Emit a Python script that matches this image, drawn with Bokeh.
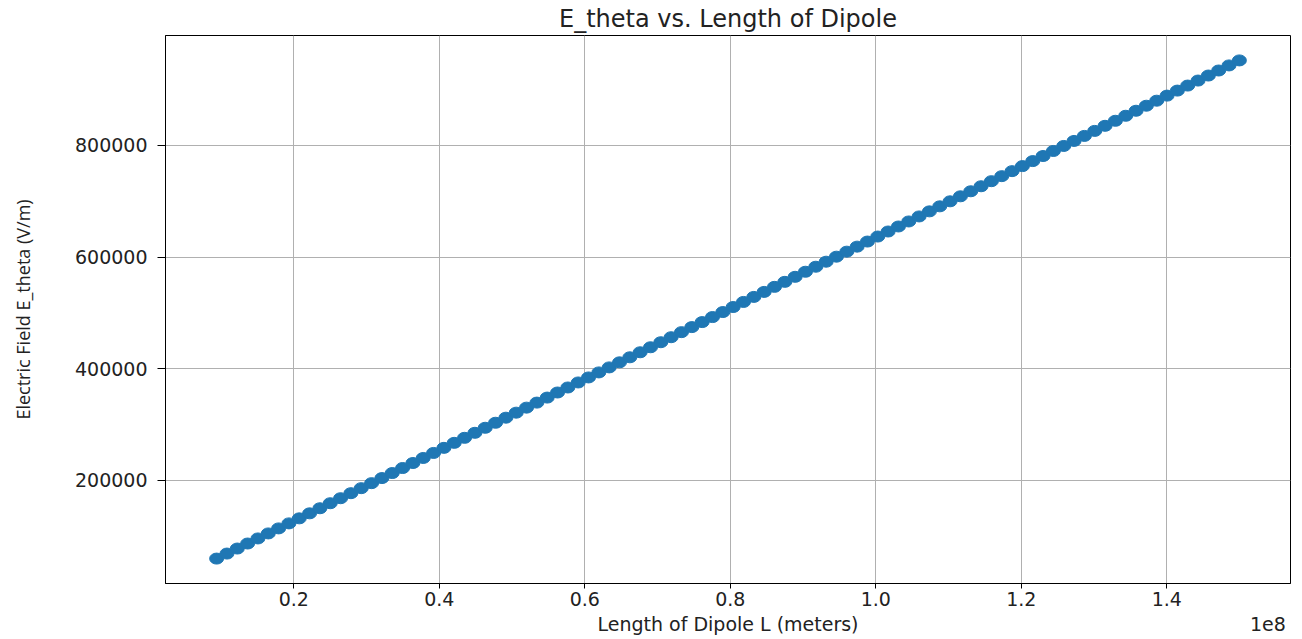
from bokeh.plotting import figure
from bokeh.models import (Range1d, FixedTicker, CustomJSTickFormatter, BasicTickFormatter,
                          LinearAxis, ColumnDataSource)
from bokeh.embed import file_html
from bokeh.resources import INLINE

# Dipole length L, in millions of metres
L_million_m = [9.40, 10.82, 12.24, 13.66, 15.08, 16.50, 17.92, 19.34, 20.76, 22.18,
               23.60, 25.02, 26.44, 27.86, 29.28, 30.70, 32.12, 33.54, 34.96, 36.38,
               37.80, 39.22, 40.64, 42.06, 43.48, 44.90, 46.32, 47.74, 49.16, 50.58,
               52.00, 53.42, 54.84, 56.26, 57.68, 59.10, 60.52, 61.94, 63.36, 64.78,
               66.20, 67.62, 69.04, 70.46, 71.88, 73.30, 74.72, 76.14, 77.56, 78.98,
               80.40, 81.82, 83.24, 84.66, 86.08, 87.50, 88.92, 90.34, 91.76, 93.18,
               94.60, 96.02, 97.44, 98.86, 100.28, 101.70, 103.12, 104.54, 105.96, 107.38,
               108.80, 110.22, 111.64, 113.06, 114.48, 115.90, 117.32, 118.74, 120.16, 121.58,
               123.00, 124.42, 125.84, 127.26, 128.68, 130.10, 131.52, 132.94, 134.36, 135.78,
               137.20, 138.62, 140.04, 141.46, 142.88, 144.30, 145.72, 147.14, 148.56, 149.98]

# Electric field E_theta, in thousands of V/m
E_theta_kVm = [59.7, 68.7, 77.7, 86.7, 95.8, 104.8, 113.8, 122.8, 131.8, 140.8,
               149.9, 158.9, 167.9, 176.9, 185.9, 194.9, 204.0, 213.0, 222.0, 231.0,
               240.0, 249.0, 258.1, 267.1, 276.1, 285.1, 294.1, 303.1, 312.2, 321.2,
               330.2, 339.2, 348.2, 357.3, 366.3, 375.3, 384.3, 393.3, 402.3, 411.4,
               420.4, 429.4, 438.4, 447.4, 456.4, 465.5, 474.5, 483.5, 492.5, 501.5,
               510.5, 519.6, 528.6, 537.6, 546.6, 555.6, 564.6, 573.7, 582.7, 591.7,
               600.7, 609.7, 618.7, 627.8, 636.8, 645.8, 654.8, 663.8, 672.8, 681.9,
               690.9, 699.9, 708.9, 717.9, 726.9, 736.0, 745.0, 754.0, 763.0, 772.0,
               781.1, 790.1, 799.1, 808.1, 817.1, 826.1, 835.2, 844.2, 853.2, 862.2,
               871.2, 880.2, 889.3, 898.3, 907.3, 916.3, 925.3, 934.3, 943.4, 952.4]

x_ticks = [0.2e8, 0.4e8, 0.6e8, 0.8e8, 1.0e8, 1.2e8, 1.4e8]
y_ticks = [200000, 400000, 600000, 800000]

title_text = "E_theta vs. Length of Dipole"
x_label = "Length of Dipole L (meters)"
y_label = "Electric Field E_theta (V/m)"
offset_text = "1e8"
offset_pos = 1.539e8  # where the "1e8" multiplier sits along the x axis

L = [v * 1e6 for v in L_million_m]
E = [v * 1e3 for v in E_theta_kVm]
src = ColumnDataSource(dict(L=L, E=E))

xpad = 0.05 * (max(L) - min(L))
ypad = 0.05 * (max(E) - min(E))
x0, x1 = min(L) - xpad, max(L) + xpad

BLUE = "#1f77b4"
TXT = "#222222"

p = figure(width=1298, height=637, output_backend="svg", toolbar_location=None,
           x_range=Range1d(x0, x1),
           y_range=Range1d(min(E) - ypad, max(E) + ypad),
           min_border_left=165, min_border_right=8, min_border_top=33, min_border_bottom=54,
           title=title_text)

p.title.align = "center"
p.title.text_font = "DejaVu Sans"
p.title.text_font_size = "24px"
p.title.text_font_style = "normal"
p.title.text_color = TXT
p.title.standoff = 5
p.title.offset = 0

p.line("L", "E", source=src, line_color=BLUE, line_width=1.5)
p.ellipse("L", "E", source=src, width=14, height=11,
          width_units="screen", height_units="screen",
          fill_color=BLUE, line_color=BLUE)

p.outline_line_color = "black"
p.outline_line_width = 1
p.background_fill_color = "white"
p.border_fill_color = "white"

p.xgrid.grid_line_color = "#b0b0b0"
p.ygrid.grid_line_color = "#b0b0b0"
p.xgrid.grid_line_width = 1
p.ygrid.grid_line_width = 1

p.xaxis.ticker = FixedTicker(ticks=x_ticks)
p.xaxis.formatter = CustomJSTickFormatter(code="return (tick/1e8).toFixed(1);")
p.yaxis.ticker = FixedTicker(ticks=y_ticks)
p.yaxis.formatter = BasicTickFormatter(use_scientific=False)

for ax in (p.xaxis, p.yaxis):
    ax.axis_line_color = "black"
    ax.major_tick_line_color = "black"
    ax.minor_tick_line_color = None
    ax.major_tick_in = 0
    ax.major_label_text_font = "DejaVu Sans"
    ax.major_label_text_font_size = "19px"
    ax.major_label_text_color = TXT
    ax.axis_label_text_color = TXT
    ax.axis_label_text_font_style = "normal"

p.xaxis.major_tick_out = 5
p.xaxis.major_label_standoff = 3

p.yaxis.major_tick_out = 8
p.yaxis.major_label_standoff = 10
p.yaxis.axis_label = y_label
p.yaxis.axis_label_text_font = "Open Sans"
p.yaxis.axis_label_text_font_size = "18px"
p.yaxis.axis_label_standoff = 37

# second row under the x axis: the axis title (centred) and the "1e8" multiplier (right)
label_axis = LinearAxis(
    ticker=FixedTicker(ticks=[(x0 + x1) / 2, offset_pos]),
    formatter=CustomJSTickFormatter(
        args=dict(lab=x_label, off=offset_text),
        code="return index == 0 ? lab : off;"),
    axis_line_color=None, major_tick_line_color=None, minor_tick_line_color=None,
    major_tick_in=0, major_tick_out=0, major_label_standoff=4,
    major_label_text_font="DejaVu Sans", major_label_text_font_size="19px",
    major_label_text_color=TXT)
p.add_layout(label_axis, "below")

open("out.html", "w").write(file_html(p, INLINE))
